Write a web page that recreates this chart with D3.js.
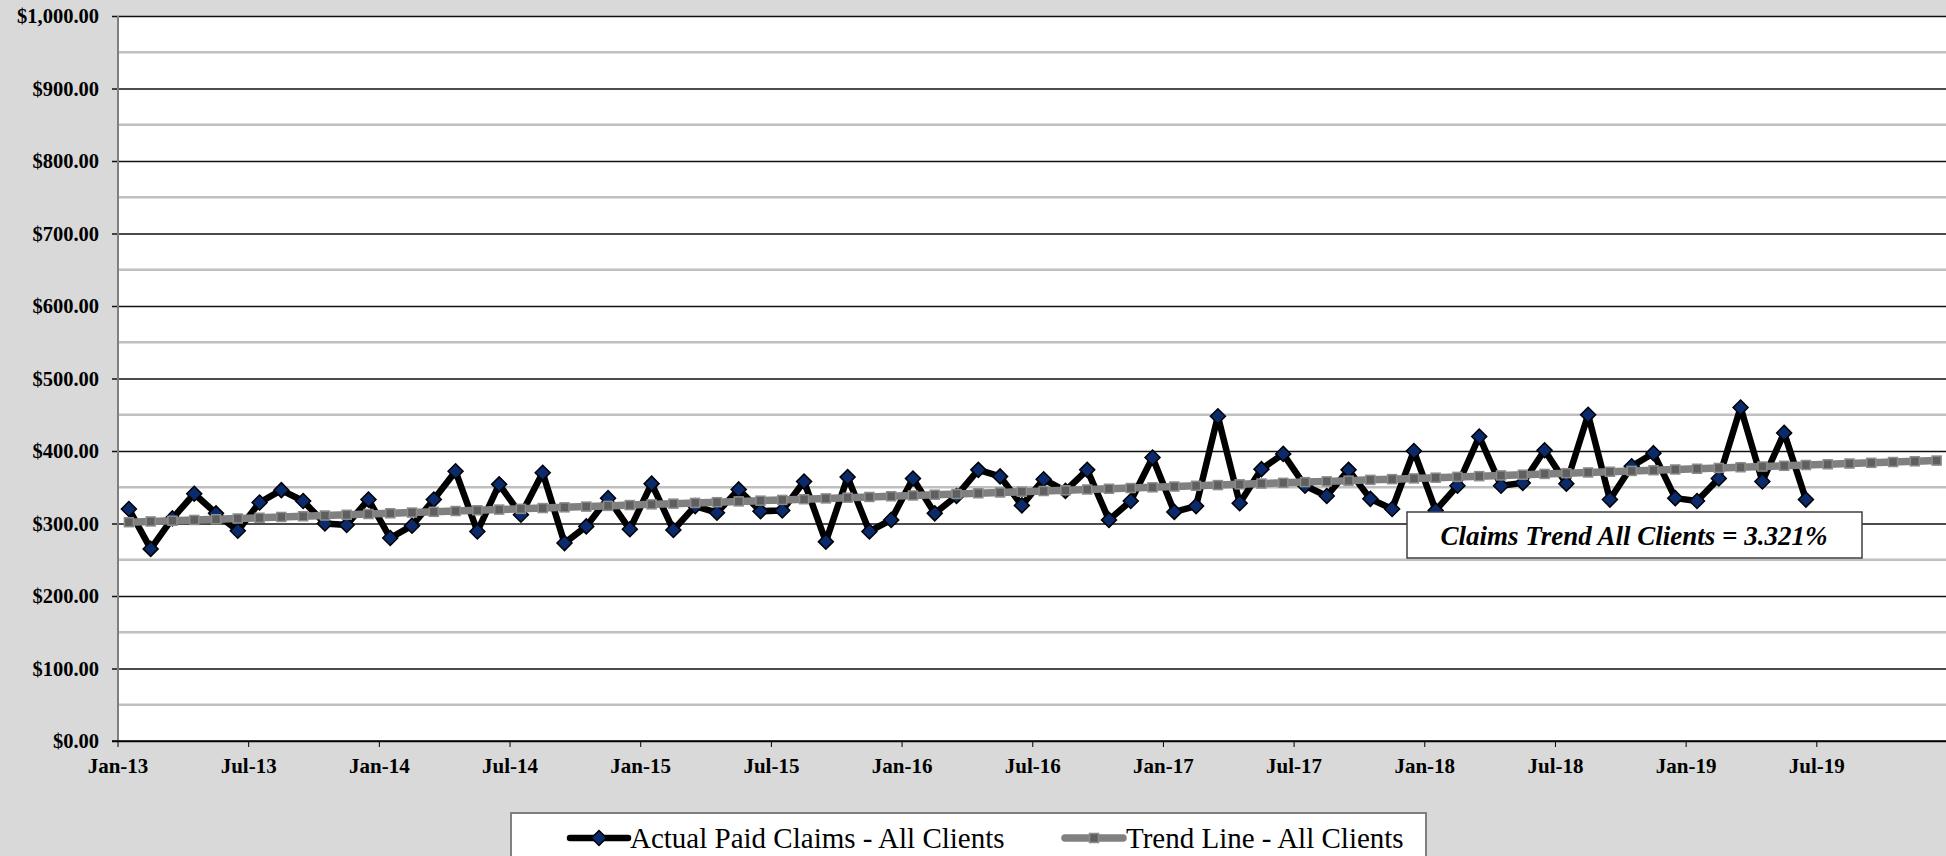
<!DOCTYPE html>
<html lang="en">
  <head>
    <meta charset="UTF-8" />
    <title>Claims Trend</title>
    <style>
      html, body { margin: 0; padding: 0; background: #d9d9d9; }
      svg { display: block; }
      text { font-family: "Liberation Serif", "Times New Roman", serif; }
    </style>
  </head>
  <body>
    <div id="chart"></div>

    <script src="https://d3js.org/d3.v7.min.js"></script>
    <script>

    // month categories, Jan-13 .. Dec-19
    var monthNames = ["Jan","Feb","Mar","Apr","May","Jun","Jul","Aug","Sep","Oct","Nov","Dec"];
    var years = ["13","14","15","16","17","18","19"];
    var months = [];
    years.forEach(function(yr) {
      monthNames.forEach(function(m) { months.push(m + "-" + yr); });
    });

    var xTickLabels = ["Jan-13","Jul-13","Jan-14","Jul-14","Jan-15","Jul-15","Jan-16",
                       "Jul-16","Jan-17","Jul-17","Jan-18","Jul-18","Jan-19","Jul-19"];
    var yTicks = [0,100,200,300,400,500,600,700,800,900,1000];
    var yMinor = [50,150,250,350,450,550,650,750,850,950];

    // actual paid claims, Jan-13 .. Jun-19
    var actualClaims = [
      320, 265, 307, 341, 314, 290, 329, 346, 331, 300, 298, 333,
      280, 297, 333, 372, 289, 354, 312, 370, 273, 296, 335, 292,
      355, 291, 324, 315, 347, 317, 318, 358, 275, 364, 289, 305,
      362, 314, 338, 374, 365, 325, 361, 345, 374, 305, 331, 391,
      316, 324, 448, 328, 375, 396, 352, 338, 374, 334, 320, 400,
      318, 352, 420, 352, 356, 401, 355, 450, 333, 379, 397, 335,
      331, 362, 460, 358, 425, 333
    ];

    // trend line, Jan-13 .. Dec-19
    var trendLine = [
      301.8, 302.8, 303.8, 304.9, 305.9, 306.9, 307.9, 309.0, 310.0, 311.0, 312.0, 313.1,
      314.1, 315.1, 316.1, 317.2, 318.2, 319.2, 320.2, 321.3, 322.3, 323.3, 324.3, 325.4,
      326.4, 327.4, 328.4, 329.4, 330.5, 331.5, 332.5, 333.5, 334.6, 335.6, 336.6, 337.6,
      338.7, 339.7, 340.7, 341.7, 342.8, 343.8, 344.8, 345.8, 346.9, 347.9, 348.9, 349.9,
      351.0, 352.0, 353.0, 354.0, 355.1, 356.1, 357.1, 358.1, 359.1, 360.2, 361.2, 362.2,
      363.2, 364.3, 365.3, 366.3, 367.3, 368.4, 369.4, 370.4, 371.4, 372.5, 373.5, 374.5,
      375.5, 376.6, 377.6, 378.6, 379.6, 380.7, 381.7, 382.7, 383.7, 384.8, 385.8, 386.8
    ];

    var seriesNames = ["Actual Paid Claims - All Clients", "Trend Line - All Clients"];
    var noteText = "Claims Trend All Clients = 3.321%";

    // sizes (plot area edges)
    var w = 1946;
    var h = 856;
    var pLeft = 118, pTop = 16, pBottom = 741, pRight = 1947.5;

    var svg = d3.select("#chart")
                .append("svg")
                .attr("width", w)
                .attr("height", h);

    svg.append("rect")
       .attr("width", w).attr("height", h)
       .attr("fill", "#d9d9d9");

    var xScale = d3.scaleBand()
                   .domain(months)
                   .range([pLeft, pRight]);

    var yScale = d3.scaleLinear()
                   .domain([0, 1000])
                   .range([pBottom, pTop]);

    var cx = function(i) { return xScale(months[i]) + xScale.bandwidth() / 2; };

    // plot area
    svg.append("rect")
       .attr("x", pLeft).attr("y", pTop)
       .attr("width", pRight - pLeft).attr("height", pBottom - pTop)
       .attr("fill", "#ffffff");

    // minor gridlines
    svg.append("g")
       .selectAll("line")
       .data(yMinor)
       .enter()
       .append("line")
       .attr("x1", pLeft).attr("x2", pRight)
       .attr("y1", function(d) { return yScale(d); })
       .attr("y2", function(d) { return yScale(d); })
       .attr("stroke", "#c0c0c0")
       .attr("stroke-width", 2.5);

    // y axis + major gridlines
    var yAxis = d3.axisLeft(yScale)
                  .tickValues(yTicks)
                  .tickFormat(function(d) { return "$" + d3.format(",.2f")(d); })
                  .tickSize(6)
                  .tickPadding(13);

    var yg = svg.append("g")
                .attr("class", "y-axis")
                .attr("transform", "translate(" + pLeft + ",0)")
                .call(yAxis);
    yg.select(".domain").remove();
    yg.selectAll(".tick line")
      .attr("x1", -6).attr("x2", pRight - pLeft)
      .attr("stroke", "#111").attr("stroke-width", 1.3);
    yg.selectAll(".tick text")
      .attr("font-size", "20.5px")
      .attr("font-weight", "bold")
      .attr("fill", "#000");

    svg.append("line")
       .attr("x1", pLeft).attr("x2", pLeft)
       .attr("y1", pTop).attr("y2", pBottom)
       .attr("stroke", "#7f7f7f").attr("stroke-width", 2);

    // x axis, ticks on category edges
    var xAxis = d3.axisBottom(xScale)
                  .tickValues(xTickLabels)
                  .tickSize(6)
                  .tickPadding(11);

    var xg = svg.append("g")
                .attr("class", "x-axis")
                .attr("transform", "translate(0," + pBottom + ")")
                .call(xAxis);
    xg.select(".domain").remove();
    xg.selectAll(".tick")
      .attr("transform", function(d) { return "translate(" + xScale(d) + ",0)"; });
    xg.selectAll(".tick line").attr("stroke", "#000");
    xg.selectAll(".tick text")
      .attr("font-size", "21px")
      .attr("font-weight", "bold")
      .attr("fill", "#000");

    svg.append("line")
       .attr("x1", pLeft - 6).attr("x2", pRight)
       .attr("y1", pBottom).attr("y2", pBottom)
       .attr("stroke", "#000").attr("stroke-width", 1.5);

    var diamond = "M0,-7.5L7.5,0L0,7.5L-7.5,0Z";

    // actual claims
    var seriesLine = d3.line()
                       .x(function(d, i) { return cx(i); })
                       .y(function(d) { return yScale(d); });

    svg.append("path")
       .datum(actualClaims)
       .attr("d", seriesLine)
       .attr("fill", "none")
       .attr("stroke", "#000")
       .attr("stroke-width", 6.5)
       .attr("stroke-linejoin", "round");

    svg.append("g")
       .selectAll("path")
       .data(actualClaims)
       .enter()
       .append("path")
       .attr("d", diamond)
       .attr("transform", function(d, i) { return "translate(" + cx(i) + "," + yScale(d) + ")"; })
       .attr("fill", "#0b2a6b")
       .attr("stroke", "#000")
       .attr("stroke-width", 1.5);

    // trend line
    svg.append("path")
       .datum(trendLine)
       .attr("d", seriesLine)
       .attr("fill", "none")
       .attr("stroke", "#808080")
       .attr("stroke-width", 7.5)
       .attr("stroke-linejoin", "round");

    svg.append("g")
       .selectAll("rect")
       .data(trendLine)
       .enter()
       .append("rect")
       .attr("x", function(d, i) { return cx(i) - 4.5; })
       .attr("y", function(d) { return yScale(d) - 4.5; })
       .attr("width", 9).attr("height", 9)
       .attr("fill", "#5f5f5f")
       .attr("stroke", "#8c8c8c")
       .attr("stroke-width", 1.5);

    // note box
    svg.append("rect")
       .attr("x", 1407).attr("y", 512)
       .attr("width", 455).attr("height", 46)
       .attr("fill", "#fff")
       .attr("stroke", "#404040")
       .attr("stroke-width", 1.5);
    svg.append("text")
       .attr("x", 1634).attr("y", 545)
       .attr("text-anchor", "middle")
       .attr("font-size", "27px")
       .attr("font-weight", "bold")
       .attr("font-style", "italic")
       .text(noteText);

    // legend
    svg.append("rect")
       .attr("x", 511).attr("y", 813)
       .attr("width", 915).attr("height", 60)
       .attr("fill", "#fff")
       .attr("stroke", "#7f7f7f")
       .attr("stroke-width", 2);

    var lg = svg.append("g");
    lg.append("line")
      .attr("x1", 570).attr("x2", 628).attr("y1", 838).attr("y2", 838)
      .attr("stroke", "#000").attr("stroke-width", 6.5).attr("stroke-linecap", "round");
    lg.append("path")
      .attr("d", diamond)
      .attr("transform", "translate(599,838)")
      .attr("fill", "#0b2a6b").attr("stroke", "#000").attr("stroke-width", 1.5);
    lg.append("text")
      .attr("x", 630).attr("y", 848)
      .attr("font-size", "29px")
      .text(seriesNames[0]);

    lg.append("line")
      .attr("x1", 1065).attr("x2", 1123).attr("y1", 838).attr("y2", 838)
      .attr("stroke", "#808080").attr("stroke-width", 7.5).attr("stroke-linecap", "round");
    lg.append("rect")
      .attr("x", 1089.5).attr("y", 833.5).attr("width", 9).attr("height", 9)
      .attr("fill", "#5f5f5f").attr("stroke", "#8c8c8c").attr("stroke-width", 1.5);
    lg.append("text")
      .attr("x", 1126).attr("y", 848)
      .attr("font-size", "29px")
      .text(seriesNames[1]);

    </script>
  </body>
</html>
